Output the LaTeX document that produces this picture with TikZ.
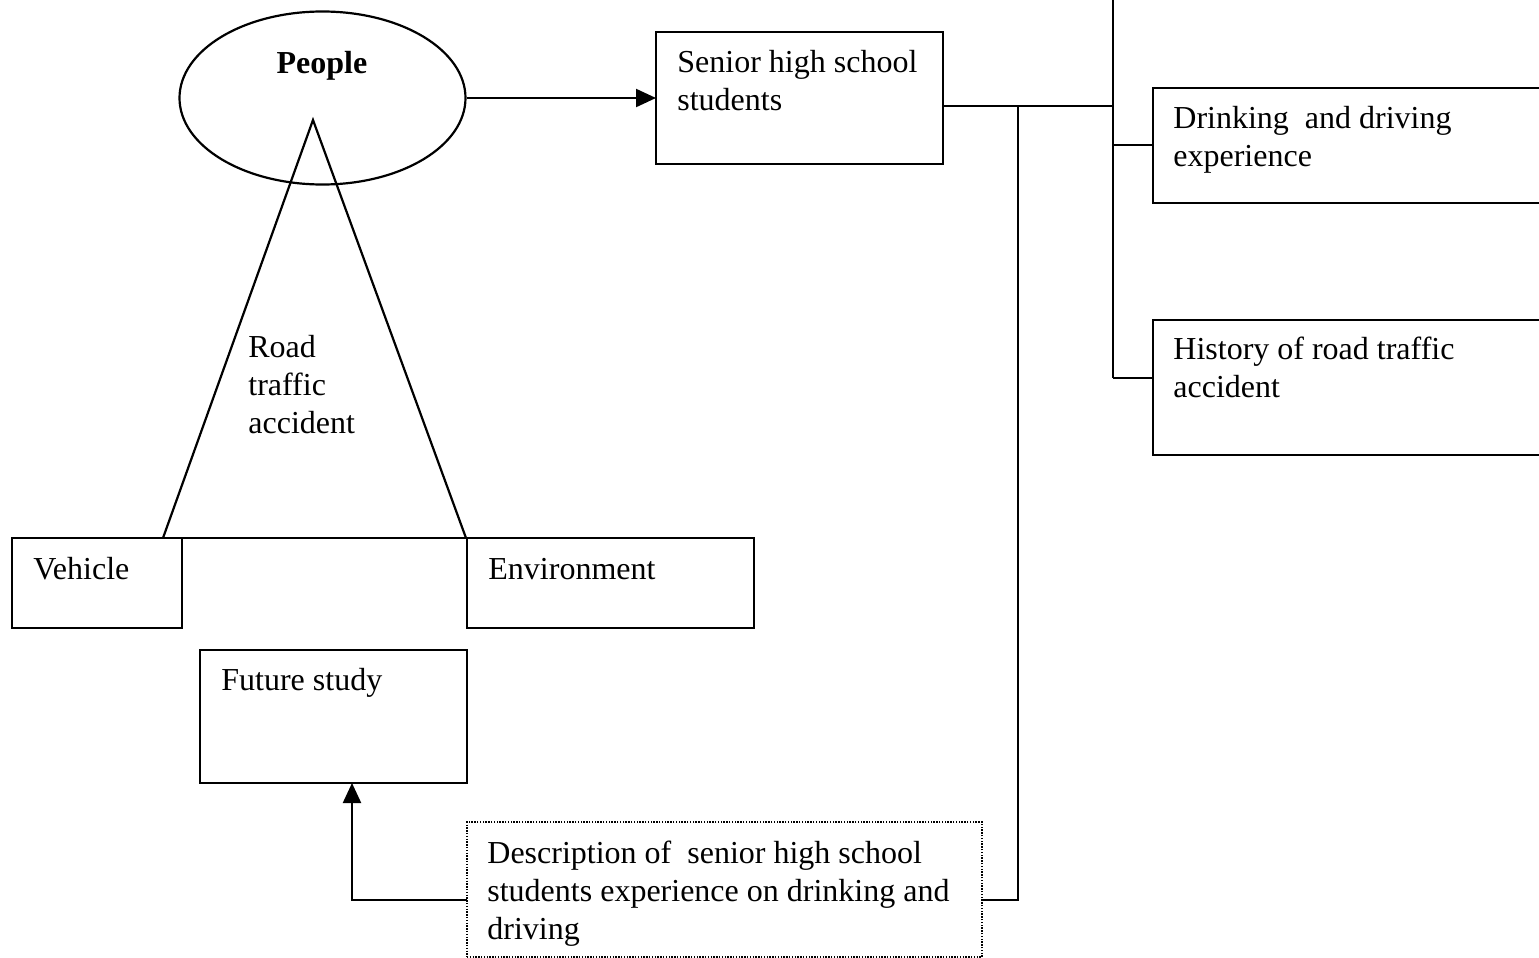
\documentclass[tikz,border=0pt]{standalone}
\usepackage{fontspec}
\setmainfont{Liberation Serif}
\usetikzlibrary{shapes.geometric,arrows.meta}
\newcommand\fsz{\fontsize{16}{19}\selectfont}
\tikzset{
  ln/.style={line width=1.1pt, draw=black},
  boxn/.style={ln, rectangle, anchor=north west, inner sep=0pt, outer sep=0pt},
  dotbox/.style={draw=black, line width=0.7pt, dash pattern=on 0.7pt off 0.7pt, rectangle, anchor=north west, inner sep=0pt, outer sep=0pt},
  txt/.style={anchor=north west, inner sep=0pt, align=left, font=\fsz, yshift=13.3pt},
  arr/.style={ln, -{Triangle[length=10pt,width=9pt]}},
}
\begin{document}
\begin{tikzpicture}[x=0.5pt,y=-0.5pt]
\useasboundingbox (0,0) rectangle (1539,958);
\clip (0,0) rectangle (1539,958);
% ellipse
\node[ln, ellipse, minimum width=143pt, minimum height=86.5pt, inner sep=0pt] (people) at (322.5,98) {};
\node[anchor=base, inner sep=0pt, font=\fsz\bfseries] (peoplet) at (322,73) {People};
% boxes
\node[boxn, minimum width=143.5pt, minimum height=66pt] (senior) at (656,32) {};
\node[boxn, minimum width=210pt, minimum height=57.5pt] (drink) at (1153,88) {};
\node[boxn, minimum width=210pt, minimum height=67.5pt] (hist) at (1153,320) {};
\node[boxn, minimum width=85pt, minimum height=45pt] (veh) at (12,538) {};
\node[boxn, minimum width=143.5pt, minimum height=45pt] (env) at (467,538) {};
\node[boxn, minimum width=133.5pt, minimum height=66.5pt] (fut) at (200,650) {};
\node[dotbox, minimum width=257.5pt, minimum height=67.5pt] (desc) at (467,822) {};
% texts
\node[txt] (seniort) at (677,72) {\strut Senior high school\\students};
\node[txt] (drinkt) at (1173,128) {\strut Drinking\ \ and driving\\experience};
\node[txt] (histt) at (1173,359) {\strut History of road traffic\\accident};
\node[txt] (veht) at (33,579) {\strut Vehicle};
\node[txt] (envt) at (488,579) {\strut Environment};
\node[txt] (futt) at (221,690) {\strut Future study};
\node[txt] (desct) at (487,863) {\strut Description of\ \ senior high school\\students experience on drinking and\\driving};
\node[txt] (roadt) at (248,357) {\strut Road\\traffic\\accident};
% triangle
\coordinate (apex) at (313,120);
\coordinate (bl) at (163,538);
\coordinate (br) at (466,538);
\draw[ln, line join=miter] (bl) -- (apex) -- (br);
\draw[ln] (veh.north east) -- (env.north west);
% connectors
\draw[arr] (people.east) -- (senior.west |- people.east);
\coordinate (j1) at (1018,106);
\coordinate (j2) at (1113,106);
\coordinate (top) at (1113,-5);
\coordinate (jd) at (1113,145);
\coordinate (jh) at (1113,378);
\coordinate (jb) at (1018,900);
\coordinate (jl) at (352,900);
\draw[ln] (senior.east |- j1) -- (j2);
\draw[ln] (top) -- (jh);
\draw[ln] (jd) -- (drink.west |- jd);
\draw[ln] (jh) -- (hist.west |- jh);
\draw[ln] (j1) -- (jb) -- (desc.east |- jb);
\draw[arr] (desc.west |- jl) -- (jl) -- (fut.south -| jl);
\end{tikzpicture}
\end{document}
